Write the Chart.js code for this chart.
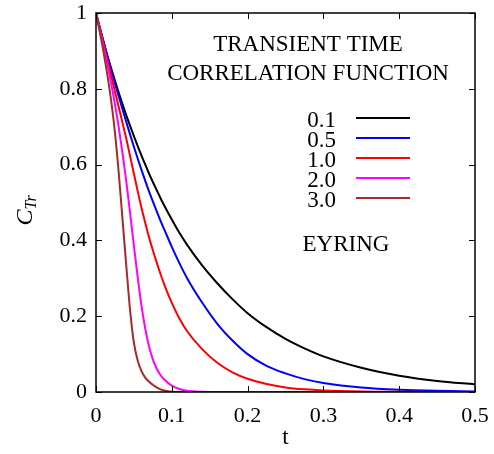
<!DOCTYPE html>
<html>
<head>
<meta charset="utf-8">
<script src="https://cdn.jsdelivr.net/npm/chart.js@4.4.1/dist/chart.umd.min.js"></script>
<style>
  html, body { margin: 0; padding: 0; background: #fff; }
  #wrap { width: 494px; height: 454px; }
</style>
</head>
<body>
<div id="wrap"><canvas id="ttcf"></canvas></div>
<script>
// time grid (t) shared by every curve
const tValues = [0, 0.005, 0.01, 0.015, 0.02, 0.025, 0.03, 0.035, 0.04, 0.045, 0.05,
    0.055, 0.06, 0.065, 0.07, 0.075, 0.08, 0.085, 0.09, 0.1, 0.11, 0.12, 0.14, 0.16,
    0.18, 0.2, 0.225, 0.25, 0.275, 0.3, 0.35, 0.4, 0.45, 0.5];

// C_Tr, one array per field strength
const c01 = [1, 0.961, 0.924, 0.888, 0.854, 0.821, 0.790, 0.759, 0.730, 0.702, 0.675,
    0.649, 0.624, 0.600, 0.576, 0.554, 0.533, 0.512, 0.492, 0.455, 0.420, 0.389, 0.334, 0.287,
    0.245, 0.208, 0.171, 0.140, 0.115, 0.094, 0.064, 0.043, 0.029, 0.020];
const c05 = [1, 0.961, 0.923, 0.885, 0.849, 0.814, 0.780, 0.746, 0.712, 0.679, 0.647,
    0.616, 0.586, 0.557, 0.529, 0.503, 0.477, 0.452, 0.429, 0.383, 0.340, 0.301, 0.236, 0.180,
    0.136, 0.100, 0.069, 0.049, 0.034, 0.024, 0.012, 0.006, 0.003, 0.0015];
const c10 = [1, 0.959, 0.918, 0.876, 0.835, 0.793, 0.752, 0.710, 0.668, 0.622, 0.576,
    0.530, 0.486, 0.446, 0.408, 0.374, 0.342, 0.312, 0.284, 0.235, 0.194, 0.161, 0.113, 0.077,
    0.052, 0.035, 0.021, 0.012, 0.007, 0.004, 0.0012, 0.0004, 0.0001, 0];
const c20 = [1, 0.955, 0.910, 0.864, 0.814, 0.759, 0.698, 0.630, 0.555, 0.472, 0.386,
    0.303, 0.228, 0.167, 0.120, 0.086, 0.062, 0.045, 0.033, 0.017, 0.008, 0.0035, 0.0007, 0.0001,
    0, 0, 0, 0, 0, 0, 0, 0, 0, 0];
const c30 = [1, 0.950, 0.896, 0.836, 0.768, 0.685, 0.578, 0.455, 0.332, 0.215, 0.130,
    0.083, 0.055, 0.038, 0.027, 0.019, 0.012, 0.007, 0.004, 0.001, 0.0002, 0, 0, 0,
    0, 0, 0, 0, 0, 0, 0, 0, 0, 0];

const seriesLabels = ["0.1", "0.5", "1.0", "2.0", "3.0"];
const seriesValues = [c01, c05, c10, c20, c30];
const seriesColors = ["#000000", "#0000ff", "#ff0000", "#ff00ff", "#a52a2a"];

const xTicks = [0, 0.1, 0.2, 0.3, 0.4, 0.5];
const yTicks = [0, 0.2, 0.4, 0.6, 0.8, 1];

const titleLines = ["TRANSIENT TIME", "CORRELATION FUNCTION"];
const modelLabel = "EYRING";

const FONT = "'Liberation Serif', 'Times New Roman', 'DejaVu Serif', serif";

// frame on four sides with inward ticks, plus the text of the figure
const decorations = {
    id: "decorations",
    afterDraw(chart) {
        const ctx = chart.ctx;
        const a = chart.chartArea;
        const xs = chart.scales.x;
        const ys = chart.scales.y;
        const tick = 6;

        ctx.save();
        ctx.strokeStyle = "#000";
        ctx.lineWidth = 1.5;
        ctx.strokeRect(a.left, a.top, a.right - a.left, a.bottom - a.top);

        ctx.lineWidth = 1;
        ctx.beginPath();
        xTicks.forEach(v => {
            const px = Math.round(xs.getPixelForValue(v)) + 0.5;
            ctx.moveTo(px, a.bottom); ctx.lineTo(px, a.bottom - tick);
            ctx.moveTo(px, a.top); ctx.lineTo(px, a.top + tick);
        });
        yTicks.forEach(v => {
            const py = Math.round(ys.getPixelForValue(v)) + 0.5;
            ctx.moveTo(a.left, py); ctx.lineTo(a.left + tick, py);
            ctx.moveTo(a.right, py); ctx.lineTo(a.right - tick, py);
        });
        ctx.stroke();

        ctx.fillStyle = "#000";
        ctx.textBaseline = "middle";

        // title
        ctx.font = `23px ${FONT}`;
        ctx.textAlign = "center";
        ctx.fillText(titleLines[0], 308, 45);
        ctx.fillText(titleLines[1], 308, 74);

        // legend
        ctx.textAlign = "right";
        chart.data.datasets.forEach((ds, i) => {
            const y = 118 + i * 20;
            ctx.fillText(seriesLabels[i], 336, y + 3);
            ctx.strokeStyle = ds.borderColor;
            ctx.lineWidth = 2;
            ctx.beginPath();
            ctx.moveTo(356, y);
            ctx.lineTo(410, y);
            ctx.stroke();
        });

        ctx.textAlign = "center";
        ctx.fillText(modelLabel, 346, 245);

        // axis titles
        ctx.fillText("t", (a.left + a.right) / 2, 438);

        ctx.translate(24, (a.top + a.bottom) / 2 + 9);
        ctx.rotate(-Math.PI / 2);
        ctx.textAlign = "left";
        ctx.textBaseline = "alphabetic";
        ctx.font = `italic 24px ${FONT}`;
        const cw = ctx.measureText("C").width;
        ctx.fillText("C", -14, 8);
        ctx.font = `italic 16px ${FONT}`;
        ctx.fillText("Tr", -14 + cw, 12);
        ctx.restore();
    }
};

const datasets = seriesValues.map((vals, i) => ({
    label: seriesLabels[i],
    data: tValues.map((t, k) => ({ x: t, y: vals[k] })),
    borderColor: seriesColors[i],
    borderWidth: 2,
    pointRadius: 0,
    fill: false,
    cubicInterpolationMode: "monotone",
    order: seriesValues.length - i
}));

new Chart(document.getElementById("ttcf"), {
    type: "line",
    data: { datasets },
    options: {
        responsive: true,
        maintainAspectRatio: false,
        animation: false,
        layout: { padding: { left: 0, top: 13, right: 19, bottom: 0 } },
        plugins: {
            legend: { display: false },
            tooltip: { enabled: false }
        },
        scales: {
            x: {
                type: "linear",
                min: 0,
                max: 0.5,
                grid: { display: false },
                border: { display: false },
                afterBuildTicks: s => { s.ticks = xTicks.map(v => ({ value: v })); },
                afterFit: s => {
                    s.height = 62;
                    s.paddingLeft = 0;
                    s.paddingRight = 0;
                },
                ticks: {
                    color: "#000",
                    padding: 3,
                    maxRotation: 0,
                    font: { family: FONT, size: 22 },
                    callback: v => String(v)
                }
            },
            y: {
                min: 0,
                max: 1,
                grid: { display: false },
                border: { display: false },
                afterBuildTicks: s => { s.ticks = yTicks.map(v => ({ value: v })); },
                afterFit: s => {
                    s.width = 96;
                    s.paddingTop = 0;
                    s.paddingBottom = 0;
                },
                ticks: {
                    color: "#000",
                    padding: 1,
                    font: { family: FONT, size: 22 },
                    callback: v => String(v)
                }
            }
        }
    },
    plugins: [decorations]
});
</script>
</body>
</html>
